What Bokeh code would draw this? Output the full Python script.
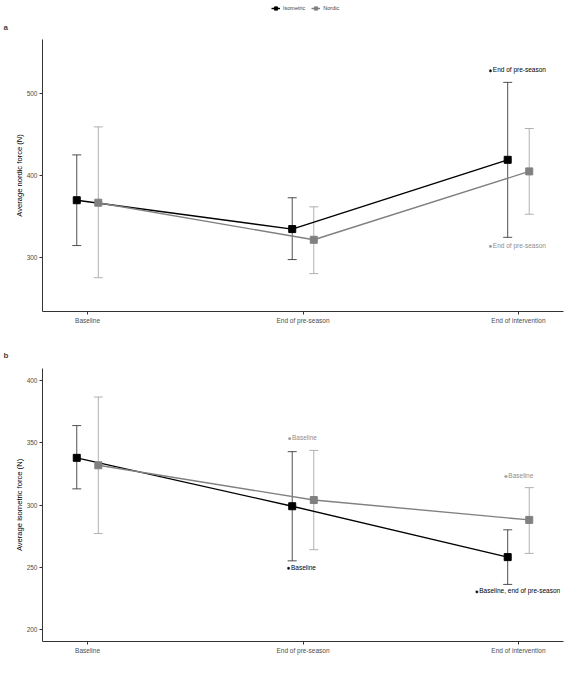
from bokeh.plotting import figure
from bokeh.models import (Range1d, ColumnDataSource, Whisker, TeeHead,
                          Legend, LegendItem, Title, FixedTicker)
from bokeh.transform import dodge
from bokeh.layouts import column
from bokeh.embed import file_html
from bokeh.resources import INLINE
from bokeh.core.properties import value

# ---------------- data ----------------
timepoints = ["Baseline", "End of pre-season", "End of intervention"]
groups = ["Isometric", "Nordic"]

# Panel a: average nordic force (N), mean and error-bar limits
a_iso_mean = [370, 335, 419]
a_iso_lower = [315, 298, 325]
a_iso_upper = [425, 373, 513]
a_nor_mean = [367, 322, 405]
a_nor_lower = [276, 281, 353]
a_nor_upper = [459, 362, 457]

# Panel b: average isometric force (N)
b_iso_mean = [338, 299, 258]
b_iso_lower = [313, 255, 236]
b_iso_upper = [364, 343, 280]
b_nor_mean = [332, 304, 288]
b_nor_lower = [277, 264, 261]
b_nor_upper = [387, 344, 314]

# significance annotations
a_ann_text = ["End of pre-season", "End of pre-season"]
a_ann_group = ["Isometric", "Nordic"]
a_ann_time = ["End of intervention", "End of intervention"]
a_ann_y = [527, 314]
a_ann_shift = [-0.13, -0.13]

b_ann_text = ["Baseline", "Baseline", "Baseline", "Baseline, end of pre-season"]
b_ann_group = ["Nordic", "Isometric", "Nordic", "Isometric"]
b_ann_time = ["End of pre-season", "End of pre-season", "End of intervention", "End of intervention"]
b_ann_y = [353.5, 249, 323, 230]
b_ann_shift = [-0.062, -0.067, -0.058, -0.193]

a_ticks = [300, 400, 500]
b_ticks = [200, 250, 300, 350, 400]

# ---------------- style ----------------
FONT = "Liberation Sans"
line_col = {"Isometric": "#000000", "Nordic": "#808080"}
err_col = {"Isometric": "#3c3c3c", "Nordic": "#a8a8a8"}
ann_col = {"Isometric": "#000000", "Nordic": "#8e8e8e"}
shift = {"Isometric": -0.05, "Nordic": 0.05}
pos = {t: i + 1 for i, t in enumerate(timepoints)}
W = 575


def make_panel(letter, ylabel, yr, ticks, series, ann, height, top, bottom, standoff):
    p = figure(x_range=Range1d(0.791, 3.209), y_range=Range1d(*yr), width=W, height=height,
               output_backend="svg", toolbar_location=None,
               min_border_left=42, min_border_right=12,
               min_border_top=top, min_border_bottom=bottom)
    p.xgrid.visible = False
    p.ygrid.visible = False
    p.outline_line_color = None
    for ax in (p.xaxis, p.yaxis):
        ax.axis_line_color = "#333333"
        ax.axis_line_width = 1
        ax.major_tick_line_color = "#333333"
        ax.major_tick_out = 3
        ax.major_tick_in = 0
        ax.minor_tick_line_color = None
        ax.major_label_text_font = FONT
        ax.major_label_text_font_size = "6.5px"
        ax.major_label_text_color = "#4d4d4d"
        ax.major_label_standoff = 2
    p.xaxis.ticker = FixedTicker(ticks=[pos[t] for t in timepoints])
    p.xaxis.major_label_overrides = {pos[t]: t for t in timepoints}
    p.yaxis.ticker = FixedTicker(ticks=ticks)
    p.yaxis.axis_label = ylabel
    p.yaxis.axis_label_text_font = FONT
    p.yaxis.axis_label_text_font_size = "7.6px"
    p.yaxis.axis_label_text_font_style = "normal"
    p.yaxis.axis_label_text_color = "#000000"
    p.yaxis.axis_label_standoff = 0

    for g in groups:
        mean, lower, upper = series[g]
        src = ColumnDataSource(dict(t=[pos[t] for t in timepoints], mean=mean,
                                    lower=lower, upper=upper))
        xs = dodge("t", shift[g])
        w = Whisker(base=xs, upper="upper", lower="lower", source=src, dimension="height",
                    line_color=err_col[g], line_width=0.9,
                    upper_head=TeeHead(size=9, line_color=err_col[g], line_width=0.9),
                    lower_head=TeeHead(size=9, line_color=err_col[g], line_width=0.9))
        p.add_layout(w)
        p.line(x=xs, y="mean", source=src, line_color=line_col[g], line_width=1.4)
        p.scatter(x=xs, y="mean", source=src, marker="square", size=7,
                  fill_color=line_col[g], line_color=line_col[g])

    texts, grps, times, ys, shifts = ann
    for txt, g, tp, yv, sh in zip(texts, grps, times, ys, shifts):
        s = ColumnDataSource(dict(t=[pos[tp]], y=[yv], label=[txt]))
        p.scatter(x=dodge("t", sh), y="y", source=s, marker="asterisk",
                  size=3, line_color=ann_col[g], line_width=0.8)
        p.text(x=dodge("t", sh + 0.011), y="y", text="label", source=s,
               text_font=value(FONT), text_font_size="6.5px", text_color=ann_col[g],
               text_align="left", text_baseline="middle", y_offset=-1)

    t = Title(text=letter, text_font=FONT, text_font_size="8px", text_font_style="bold",
              align="left", offset=-39, standoff=standoff)
    p.add_layout(t, "above")
    return p


# ---- legend strip on top (its key renderers reuse panel a data, lying outside the strip's range) ----
lf = figure(width=W, height=12, x_range=Range1d(0, 1), y_range=Range1d(0, 1),
            x_axis_type=None, y_axis_type=None, min_border=0,
            output_backend="svg", toolbar_location=None)
lf.grid.visible = False
lf.outline_line_color = None
legend_series = {"Isometric": a_iso_mean, "Nordic": a_nor_mean}
items = []
for g in groups:
    ks = ColumnDataSource(dict(t=[pos[t] for t in timepoints], mean=legend_series[g]))
    lr = lf.line(x="t", y="mean", source=ks, line_color=line_col[g], line_width=1.4)
    sr = lf.scatter(x="t", y="mean", source=ks, marker="square", size=7,
                    fill_color=line_col[g], line_color=line_col[g])
    items.append(LegendItem(label=g, renderers=[lr, sr]))
leg = Legend(items=items, orientation="horizontal", location=(229, 0),
             label_text_font=FONT, label_text_font_size="5.5px",
             glyph_width=9, glyph_height=8, label_height=8, label_standoff=3,
             spacing=6, padding=0, margin=0, border_line_color=None,
             background_fill_alpha=0)
lf.add_layout(leg)

p1 = make_panel("a", "Average nordic force (N)", (235, 565), a_ticks,
                {"Isometric": (a_iso_mean, a_iso_lower, a_iso_upper),
                 "Nordic": (a_nor_mean, a_nor_lower, a_nor_upper)},
                (a_ann_text, a_ann_group, a_ann_time, a_ann_y, a_ann_shift),
                323, 26, 24, 16)
p2 = make_panel("b", "Average isometric force (N)", (190, 410), b_ticks,
                {"Isometric": (b_iso_mean, b_iso_lower, b_iso_upper),
                 "Nordic": (b_nor_mean, b_nor_lower, b_nor_upper)},
                (b_ann_text, b_ann_group, b_ann_time, b_ann_y, b_ann_shift),
                337, 33, 31, 16.5)

layout = column(lf, p1, p2)
open("out.html", "w").write(file_html(layout, INLINE))
